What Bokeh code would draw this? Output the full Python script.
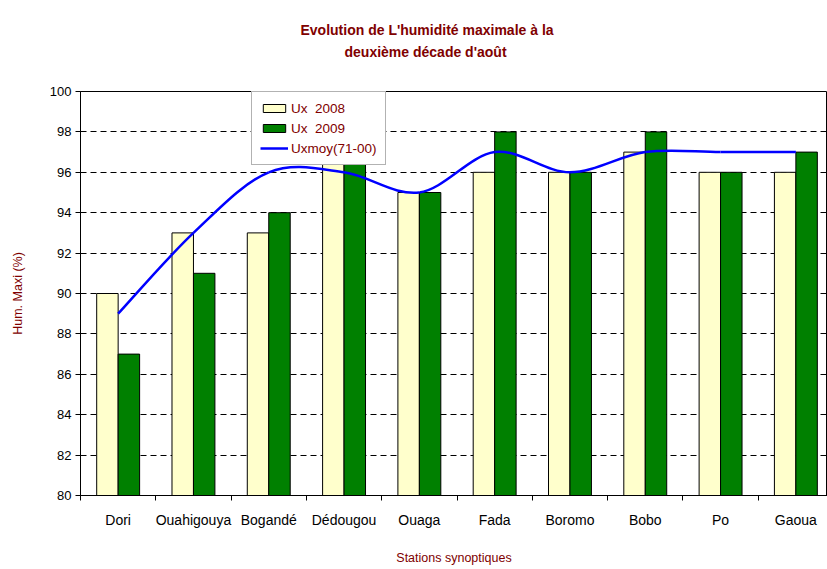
import numpy as np
from bokeh.plotting import figure
from bokeh.models import (ColumnDataSource, Range1d, FixedTicker, Title, Legend, LegendItem)
from bokeh.embed import file_html
from bokeh.resources import INLINE

stations = ["Dori", "Ouahigouya", "Bogandé", "Dédougou", "Ouaga", "Fada",
            "Boromo", "Bobo", "Po", "Gaoua"]
ux_2008 = [90, 93, 93, 97, 95, 96, 96, 97, 96, 96]
ux_2009 = [87, 91, 94, 97, 95, 98, 96, 98, 96, 97]
ux_moy = [89, 93, 96, 96, 95, 97, 96, 97, 97, 97]
y_ticks = [80, 82, 84, 86, 88, 90, 92, 94, 96, 98, 100]

FONT = "Liberation Sans"
RED = "#800000"
n = len(stations)
centers = np.arange(n) + 0.5
bw = 0.285

p = figure(width=827, height=567, output_backend="svg", toolbar_location=None,
           x_range=Range1d(0, 9.92), y_range=Range1d(80, 100),
           min_border_left=80, min_border_top=91, min_border_right=0,
           min_border_bottom=10)
p.background_fill_color = "white"
p.outline_line_color = "black"
p.outline_line_width = 1

src = ColumnDataSource(dict(x8=centers - bw / 2, x9=centers + bw / 2,
                            u8=ux_2008, u9=ux_2009))
r8 = p.vbar(x="x8", top="u8", bottom=80, width=bw, source=src,
            fill_color="#FFFFCC", line_color="black", line_width=1)
r9 = p.vbar(x="x9", top="u9", bottom=80, width=bw, source=src,
            fill_color="#008000", line_color="black", line_width=1)

# smoothed line (Excel-like smoothing rendered as bezier segments through the data)
pts = np.array(ux_moy, dtype=float)
ext = np.concatenate([[pts[0]], pts, [pts[-1]]])
xe = np.concatenate([[centers[0]], centers, [centers[-1]]])
bsrc = ColumnDataSource(dict(
    x0=centers[:-1], y0=pts[:-1], x1=centers[1:], y1=pts[1:],
    cx0=centers[:-1] + (xe[2:-1] - xe[:-3]) / 6, cy0=pts[:-1] + (ext[2:-1] - ext[:-3]) / 6,
    cx1=centers[1:] - (xe[3:] - xe[1:-2]) / 6, cy1=pts[1:] - (ext[3:] - ext[1:-2]) / 6,
))
rl = p.bezier(x0="x0", y0="y0", x1="x1", y1="y1", cx0="cx0", cy0="cy0",
              cx1="cx1", cy1="cy1", source=bsrc, line_color="#0000FF", line_width=2.5)

# axes
p.yaxis.ticker = FixedTicker(ticks=y_ticks)
p.yaxis.major_tick_out = 5
p.yaxis.major_tick_in = 0
p.yaxis.minor_tick_out = 0
p.yaxis.minor_tick_in = 0
p.yaxis.axis_line_color = "black"
p.yaxis.major_label_text_font = FONT
p.yaxis.major_label_text_font_size = "13px"
p.yaxis.major_label_text_color = "black"
p.yaxis.major_label_standoff = 4
p.yaxis.axis_label = "Hum. Maxi (%)"
p.yaxis.axis_label_text_font = FONT
p.yaxis.axis_label_text_font_size = "12.5px"
p.yaxis.axis_label_text_font_style = "normal"
p.yaxis.axis_label_text_color = RED
p.yaxis.axis_label_standoff = 22

p.xaxis.ticker = FixedTicker(ticks=list(centers), minor_ticks=list(np.arange(n + 1)))
p.xaxis.major_label_overrides = {float(c): s for c, s in zip(centers, stations)}
p.xaxis.major_tick_out = 0
p.xaxis.major_tick_in = 0
p.xaxis.minor_tick_out = 5
p.xaxis.minor_tick_in = 0
p.xaxis.axis_line_color = "black"
p.xaxis.major_label_text_font = FONT
p.xaxis.major_label_text_font_size = "14px"
p.xaxis.major_label_text_color = "black"
p.xaxis.major_label_standoff = 11
p.xaxis.axis_label = "Stations synoptiques"
p.xaxis.axis_label_text_font = FONT
p.xaxis.axis_label_text_font_size = "12.5px"
p.xaxis.axis_label_text_font_style = "normal"
p.xaxis.axis_label_text_color = RED
p.xaxis.axis_label_standoff = 20

p.xgrid.grid_line_color = None
p.ygrid.ticker = FixedTicker(ticks=y_ticks)
p.ygrid.grid_line_color = "black"
p.ygrid.grid_line_dash = "6 4"
p.ygrid.grid_line_width = 1

# titles (spacer closest to the frame, then the two title lines)
spacer = Title(text=" ", standoff=13, text_font=FONT, text_font_size="13px")
t2 = Title(text="deuxième décade d'août", align="left", offset=264, standoff=4,
           text_font=FONT, text_font_size="14px", text_font_style="bold", text_color=RED)
t1 = Title(text="Evolution de L'humidité maximale  à la", align="left", offset=220,
           standoff=4, text_font=FONT, text_font_size="14px", text_font_style="bold",
           text_color=RED)
p.add_layout(spacer, "above")
p.add_layout(t2, "above")
p.add_layout(t1, "above")

legend = Legend(items=[LegendItem(label="Ux  2008", renderers=[r8]),
                       LegendItem(label="Ux  2009", renderers=[r9]),
                       LegendItem(label="Uxmoy(71-00)", renderers=[rl])],
                location=(171, 330), orientation="vertical")
legend.label_text_font = FONT
legend.label_text_font_size = "13.5px"
legend.label_text_color = RED
legend.border_line_color = "#666666"
legend.border_line_width = 1
legend.background_fill_color = "white"
legend.background_fill_alpha = 1
legend.glyph_width = 28
legend.glyph_height = 10
legend.label_height = 16
legend.spacing = 4
legend.padding = 8
legend.margin = 0
legend.label_standoff = 3
p.add_layout(legend, "center")

open("out.html", "w").write(file_html(p, INLINE))
